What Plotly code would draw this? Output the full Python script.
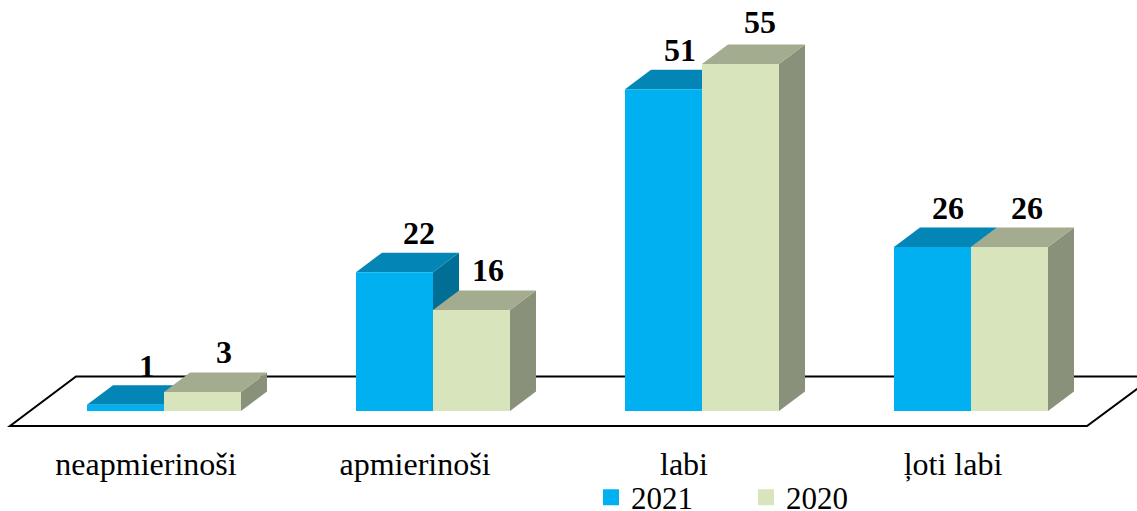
import plotly.graph_objects as go

categories = ["neapmierinoši", "apmierinoši", "labi", "ļoti labi"]
series_2021 = [1, 22, 51, 26]
series_2020 = [3, 16, 55, 26]

# geometry helpers: pixels per data unit in the 1137x511 frame
W, H = 1137, 511
PLOT_BOTTOM = 442
BASE_PX = 411
PX_X = 269.0
PX_Y = 6.31
ORIGIN_PX = 164
BAR_PX = 77

def ux(px):
    return px / PX_X

def uy(px):
    return px / PX_Y

DX, DY = ux(26), uy(19.5)
BAR = ux(BAR_PX)
xpos = list(range(len(categories)))

def path(points):
    return "M" + "L".join(f"{x:.5f},{y:.5f}" for x, y in points) + "Z"

def face(points, color):
    return dict(type="path", path=path(points), xref="x", yref="y", layer="below",
                fillcolor=color, line=dict(width=0))

def side(x0, v):
    x1 = x0 + BAR
    return [(x1, 0), (x1 + DX, DY), (x1 + DX, v + DY), (x1, v)]

def top(x0, v):
    x1 = x0 + BAR
    return [(x0, v), (x1, v), (x1 + DX, v + DY), (x0 + DX, v + DY)]

BLUE, BLUE_TOP, BLUE_SIDE = "#00B0F0", "#0385B5", "#016E96"
GREEN, GREEN_TOP, GREEN_SIDE = "#D8E4BC", "#A3AC8E", "#8A917A"

# floor
fl = [ux(10 - ORIGIN_PX), ux(1087 - ORIGIN_PX), ux(1154 - ORIGIN_PX), ux(76 - ORIGIN_PX)]
floor_low, floor_high = uy(BASE_PX - 426), uy(BASE_PX - 376.5)
shapes = [dict(type="path", xref="x", yref="y", layer="below", fillcolor="white",
               line=dict(color="black", width=2),
               path=path([(fl[0], floor_low), (fl[1], floor_low), (fl[2], floor_high), (fl[3], floor_high)]))]

for i in xpos:
    shapes.append(face(side(i - BAR, series_2021[i]), BLUE_SIDE))
    shapes.append(face(top(i - BAR, series_2021[i]), BLUE_TOP))
    shapes.append(face(side(i, series_2020[i]), GREEN_SIDE))
    shapes.append(face(top(i, series_2020[i]), GREEN_TOP))

fig = go.Figure()
fig.add_bar(x=xpos, y=series_2021, marker=dict(color=BLUE, line=dict(width=0)), showlegend=False)
fig.add_bar(x=xpos, y=series_2020, marker=dict(color=GREEN, line=dict(width=0)), showlegend=False)
fig.add_scatter(x=[None], y=[None], mode="markers", name="2021",
                marker=dict(symbol="square", size=16, color=BLUE))
fig.add_scatter(x=[None], y=[None], mode="markers", name="2020",
                marker=dict(symbol="square", size=16, color=GREEN))

# value labels, offset to sit over the 3D tops
xshift_2021 = [21, 24, 16, 15]
xshift_2020 = [21, 16, 19, 17]
yshift_2021 = [38.5, 39.5, 39.5, 38.5]
yshift_2020 = [40.5, 40.5, 41.5, 38.5]
annotations = []
for i in xpos:
    for vals, sign, xs, ys in ((series_2021, -1, xshift_2021, yshift_2021),
                               (series_2020, 1, xshift_2020, yshift_2020)):
        annotations.append(dict(x=i + sign * BAR / 2, y=vals[i], text=f"<b>{vals[i]}</b>", showarrow=False,
                                xshift=xs[i], yshift=ys[i], xanchor="center", yanchor="middle",
                                font=dict(family="Liberation Serif", size=32, color="black")))

fig.update_layout(
    width=W, height=H, autosize=False,
    margin=dict(l=0, r=0, t=0, b=H - PLOT_BOTTOM, pad=0, autoexpand=False),
    paper_bgcolor="white", plot_bgcolor="white",
    barmode="group", bargap=1 - 2 * BAR, bargroupgap=0,
    shapes=shapes, annotations=annotations,
    font=dict(family="Liberation Serif", size=31, color="black"),
    legend=dict(orientation="h", x=0.5198, xanchor="left", y=-0.0645, yanchor="top",
                entrywidth=110, entrywidthmode="pixels", font=dict(size=31),
                bgcolor="rgba(0,0,0,0)", itemclick=False, itemdoubleclick=False),
    xaxis=dict(range=[ux(-ORIGIN_PX), ux(W - ORIGIN_PX)], tickmode="array",
               tickvals=[i - ux(18) for i in xpos], ticktext=categories,
               showgrid=False, zeroline=False, showline=False, ticks="",
               tickfont=dict(family="Liberation Serif", size=32, color="black")),
    yaxis=dict(range=[uy(BASE_PX - PLOT_BOTTOM), uy(BASE_PX)], showgrid=False, zeroline=False,
               showline=False, showticklabels=False, ticks=""),
)

fig.write_html("out.html", config={"displayModeBar": False},
               post_script="document.body.style.margin='0';document.documentElement.style.overflow='hidden';")
